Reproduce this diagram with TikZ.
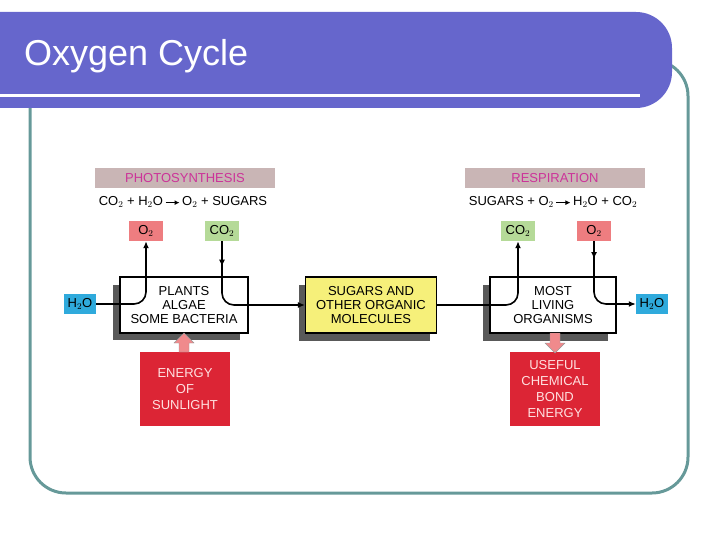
\documentclass[tikz,border=0pt]{standalone}
\usepackage{fontspec}
\setmainfont{Liberation Sans}
\usetikzlibrary{arrows.meta,decorations.markings}
\definecolor{bar}{HTML}{6666CC}
\definecolor{frame}{HTML}{669999}
\definecolor{band}{HTML}{C9B5B5}
\definecolor{mag}{HTML}{CC3399}
\definecolor{pinkbox}{HTML}{EE7D80}
\definecolor{greenbox}{HTML}{B5DA98}
\definecolor{bluebox}{HTML}{2FAADC}
\definecolor{redbox}{HTML}{DC2535}
\definecolor{yelbox}{HTML}{F6F07A}
\definecolor{paleaccent}{HTML}{F08A8C}
\newcommand{\yields}{\,\tikz[baseline=-3pt]\draw[line width=1pt,-{Latex[length=5pt,width=5pt]}] (0,0) -- (14pt,0);\,}
\begin{document}
\begin{tikzpicture}[x=1pt,y=-1pt,
  lab/.style={font=\fontsize{13}{14}\selectfont,align=center,inner sep=0pt},
  small/.style={lab,minimum width=34pt,minimum height=20pt},
  band/.style={lab,fill=band,text=mag,minimum width=180pt,minimum height=20pt},
  main/.style={lab,draw=black,line width=1.2pt,fill=white,minimum width=128pt,minimum height=56pt},
  shadow/.style={fill=black!65},
  energy/.style={lab,fill=redbox,text=white!88!red,minimum width=90pt,minimum height=74pt,font=\fontsize{13}{16}\selectfont},
  flow/.style={line width=1.6pt,rounded corners=12pt,-{Latex[length=7pt,width=6pt]}},
  mid/.style={postaction={decorate},decoration={markings,mark=at position 0.18 with {\arrow{Latex[length=7pt,width=6pt]}}}},
  big/.style={fill=paleaccent,draw=black!40,line width=0.4pt}]
\useasboundingbox (0,0) rectangle (720,540);
% slide frame and title bar
\draw[frame,line width=3pt,rounded corners=36pt] (30,60) rectangle (688,493);
\fill[bar,rounded corners=36pt] (-40,12) rectangle (672,108);
\fill[white] (0,94) rectangle (640,97);
\node[anchor=west,text=white,font=\fontsize{36}{40}\selectfont,inner sep=0pt] (title) at (24,56) {Oxygen Cycle};
% photosynthesis side
\node[band] (ps) at (185,178) {PHOTOSYNTHESIS};
\node[lab] (pseq) at (183,202) {CO$_2$ + H$_2$O\yields O$_2$ + SUGARS};
\node[small,fill=pinkbox] (o2a) at (146,231) {O$_2$};
\node[small,fill=greenbox] (co2a) at (222,231) {CO$_2$};
\node[small,fill=bluebox,minimum width=32pt] (h2oa) at (80,304) {H$_2$O};
\fill[shadow] (113,285) rectangle (240,340);
\node[main] (plants) at (184,305) {PLANTS\\ALGAE\\SOME BACTERIA};
\node[energy] (sun) at (185,389) {ENERGY\\OF\\SUNLIGHT};
% middle
\fill[shadow] (299,285) rectangle (430,341);
\node[main,fill=yelbox,minimum width=131pt] (sug) at (371,305) {SUGARS AND\\OTHER ORGANIC\\MOLECULES};
% respiration side
\node[band] (rs) at (555,178) {RESPIRATION};
\node[lab] (rseq) at (553,202) {SUGARS + O$_2$\yields H$_2$O + CO$_2$};
\node[small,fill=greenbox] (co2b) at (518,231) {CO$_2$};
\node[small,fill=pinkbox] (o2b) at (594,231) {O$_2$};
\node[small,fill=bluebox,minimum width=32pt] (h2ob) at (652,304) {H$_2$O};
\fill[shadow] (483,285) rectangle (608,341);
\node[main,minimum width=126pt] (org) at (553,305) {MOST\\LIVING\\ORGANISMS};
\node[energy] (use) at (555,389) {USEFUL\\CHEMICAL\\BOND\\ENERGY};
% flows
\draw[flow] (h2oa.east) -| (o2a.south);
\draw[flow,mid] (co2a.south) |- (sug.west);
\draw[flow] (sug.east) -| (co2b.south);
\draw[flow,mid] (o2b.south) |- (h2ob.west);
% energy arrows
\draw[big] (179,352) -- (179,343) -- (174,343) -- (184,333) -- (194,343) -- (189,343) -- (189,352) -- cycle;
\draw[big] (550,333) -- (550,343) -- (545,343) -- (555,353) -- (565,343) -- (560,343) -- (560,333) -- cycle;
\end{tikzpicture}
\end{document}
